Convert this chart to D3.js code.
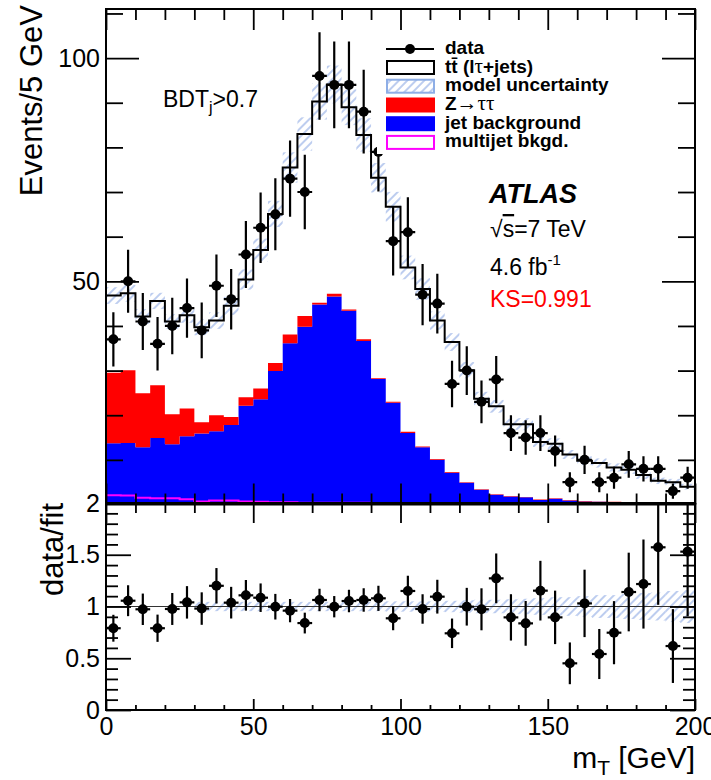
<!DOCTYPE html>
<html>
<head>
<meta charset="utf-8">
<script src="https://cdn.jsdelivr.net/npm/d3@7.9.0/dist/d3.min.js"></script>
<style>
  body { margin: 0; background: #fff; }
  svg { display: block; font-family: "Liberation Sans", Arial, Helvetica, sans-serif; }
</style>
</head>
<body>
<svg id="chart" width="711" height="780"></svg>
<script>
// -----------------------------
// Data
// -----------------------------
const binWidth = 5;                          // GeV per bin
const binLow = d3.range(0, 200, binWidth);   // lower bin edges 0 ... 195

// observed events per bin
const dataCounts = [37, 50, 41, 36, 40, 44, 39, 49, 46, 56, 62, 65, 73, 70, 96, 94, 94, 88, 79, 59,
                    61, 47, 45, 27, 30, 23, 28, 16, 15, 16, 12, 5, 10, 5, 6, 9, 8, 8, 3, 6];

// total fitted model (tt̄ lτ+jets, black line)
const ttFit = [46.8, 47.3, 42.1, 45.6, 41.0, 42.4, 39.7, 41.2, 44.5, 50.4, 57.0, 65.1, 75.5, 83.0, 90.3, 94.1, 89.0, 82.8, 73.2, 66.7,
               53.1, 48.3, 41.2, 36.4, 30.1, 23.7, 22.0, 18.0, 18.0, 14.0, 13.6, 11.2, 9.8, 9.3, 8.3, 7.8, 6.6, 5.3, 5.0, 4.0];

// stacked components
const multijet = [2.1, 2.0, 1.5, 1.4, 1.4, 1.2, 0.7, 0.9, 0.9, 0.7, 0.6, 0.5, 0.5, 0.4, 0.4, 0.4, 0.4, 0.4, 0.3, 0.3,
                  0.3, 0.3, 0.3, 0.2, 0.2, 0.2, 0.2, 0.2, 0.2, 0.2, 0.2, 0.2, 0.2, 0.2, 0.2, 0.2, 0.2, 0.2, 0.2, 0.2];
const jetBkg = [11.6, 11.8, 11.3, 13.5, 12.1, 14.1, 15.2, 15.5, 16.9, 21.4, 23.0, 29.4, 35.6, 39.4, 44.4, 46.2, 43.0, 36.2, 27.8, 22.5,
                15.7, 12.5, 9.7, 6.9, 4.7, 3.1, 2.0, 1.6, 1.4, 0.8, 1.1, 0.7, 0.5, 0.4, 0.3, 0.2, 0.2, 0.1, 0.1, 0.1];
const zTauTau = [15.8, 16.3, 12.1, 11.8, 6.7, 6.2, 2.5, 3.6, 1.8, 1.9, 2.4, 1.8, 2.0, 2.4, 0.4, 0.6, 0.3, 0.4, 0.2, 0.2,
                 0.3, 0.2, 0.2, 0.2, 0.1, 0.1, 0.1, 0.1, 0.1, 0.1, 0.1, 0.1, 0.1, 0.1, 0.1, 0.1, 0.0, 0.1, 0.0, 0.0];

// relative half-width of the hatched model uncertainty
const modelUnc = [0.04, 0.04, 0.04, 0.04, 0.04, 0.04, 0.045, 0.045, 0.045, 0.045, 0.045, 0.045, 0.045, 0.045, 0.045, 0.045, 0.045, 0.045, 0.045, 0.05,
                  0.05, 0.05, 0.05, 0.055, 0.06, 0.065, 0.065, 0.07, 0.075, 0.08, 0.09, 0.09, 0.1, 0.11, 0.11, 0.12, 0.13, 0.135, 0.15, 0.16];
const ratioUnc = [0, 0, 0, 0, 0, 0, 0.045, 0.045, 0.045, 0.045, 0.045, 0.045, 0.045, 0.045, 0.045, 0.045, 0.045, 0.045, 0.045, 0.05,
                  0.05, 0.05, 0.05, 0.055, 0.06, 0.065, 0.065, 0.07, 0.075, 0.08, 0.09, 0.09, 0.1, 0.11, 0.11, 0.12, 0.13, 0.135, 0.15, 0.16];

// data / fit
const ratioValues = [0.79, 1.056, 0.973, 0.79, 0.976, 1.04, 0.98, 1.20, 1.037, 1.108, 1.085, 0.998, 0.96, 0.84, 1.063, 0.998, 1.053, 1.063, 1.079, 0.886,
                     1.15, 0.976, 1.095, 0.741, 0.998, 0.973, 1.272, 0.895, 0.837, 1.153, 0.895, 0.451, 1.03, 0.541, 0.747, 1.14, 1.217, 1.572, 0.618, 1.53];

// tick labels
const xTicks = [0, 50, 100, 150, 200];
const yTicksTop = [50, 100];
const yTicksRatio = [0, 0.5, 1, 1.5, 2];

// -----------------------------
// Layout + scales
// -----------------------------
const left = 106, right = 695;
const topPanel = { top: 9, bottom: 504.5 };
const ratioPanel = { top: 503, bottom: 710 };

const x = d3.scaleLinear().domain([0, 200]).range([left, right]);
const yTop = d3.scaleLinear().domain([0, 111]).range([topPanel.bottom, topPanel.top]);
const yRatio = d3.scaleLinear().domain([0, 2]).range([ratioPanel.bottom, ratioPanel.top]);

const COL_HATCH = '#86a3e2';
const svg = d3.select('#chart');
const defs = svg.append('defs');

defs.append('pattern')
  .attr('id', 'hatch')
  .attr('patternUnits', 'userSpaceOnUse')
  .attr('width', 6).attr('height', 6)
  .attr('patternTransform', 'rotate(45)')
  .append('line')
  .attr('x1', 3).attr('y1', 0).attr('x2', 3).attr('y2', 6)
  .attr('stroke', COL_HATCH).attr('stroke-width', 1.1);

defs.append('clipPath').attr('id', 'clipTop').append('rect')
  .attr('x', left).attr('y', topPanel.top)
  .attr('width', right - left).attr('height', topPanel.bottom - topPanel.top);
defs.append('clipPath').attr('id', 'clipRatio').append('rect')
  .attr('x', left).attr('y', ratioPanel.top)
  .attr('width', right - left).attr('height', ratioPanel.bottom - ratioPanel.top);

// histogram helpers: one pair of points per bin gives the step shape
function stepPoints(lower, upper) {
  return binLow.flatMap((lo, i) => [
    { x: lo, y0: lower[i], y1: upper[i] },
    { x: lo + binWidth, y0: lower[i], y1: upper[i] }
  ]);
}
const stepArea = d3.area().x(d => x(d.x)).y0(d => yTop(d.y0)).y1(d => yTop(d.y1));
const stepLine = d3.line().x(d => x(d.x)).y(d => yTop(d.y1));

// -----------------------------
// Top panel
// -----------------------------
const gTop = svg.append('g').attr('clip-path', 'url(#clipTop)');

const table = binLow.map((lo, i) => ({ lo, multijet: multijet[i], jet: jetBkg[i], ztt: zTauTau[i] }));
const stacked = d3.stack().keys(['multijet', 'jet', 'ztt'])(table);
const zeros = binLow.map(() => 0);
const jetTop = stacked[1].map(s => s[1]);
const zttLow = stacked[2].map(s => s[0]);
const zttTop = stacked[2].map(s => s[1]);
const mjTop = stacked[0].map(s => s[1]);

gTop.append('path').attr('d', stepArea(stepPoints(zeros, jetTop))).attr('fill', '#0000ff');
gTop.append('path').attr('d', stepArea(stepPoints(zttLow, zttTop))).attr('fill', '#ff0000');
gTop.append('path').attr('d', stepLine(stepPoints(zeros, mjTop)))
  .attr('fill', 'none').attr('stroke', '#ff00ff').attr('stroke-width', 2);

// hatched model uncertainty
gTop.selectAll('rect.band').data(ttFit).join('rect')
  .attr('class', 'band')
  .attr('x', (d, i) => x(binLow[i]))
  .attr('width', x(binWidth) - x(0))
  .attr('y', (d, i) => yTop(d * (1 + modelUnc[i])))
  .attr('height', (d, i) => yTop(d * (1 - modelUnc[i])) - yTop(d * (1 + modelUnc[i])))
  .attr('fill', 'url(#hatch)');

gTop.append('path').attr('d', stepLine(stepPoints(zeros, ttFit)))
  .attr('fill', 'none').attr('stroke', '#000').attr('stroke-width', 2);

// data points with Poisson errors
function drawPoints(g, values, errors, yScale) {
  const pts = g.append('g');
  values.forEach((v, i) => {
    const cx = x(binLow[i] + binWidth / 2);
    pts.append('line')
      .attr('x1', cx).attr('x2', cx)
      .attr('y1', yScale(v - errors[i])).attr('y2', yScale(v + errors[i]))
      .attr('stroke', '#000').attr('stroke-width', 2.2);
    pts.append('line')
      .attr('x1', x(binLow[i])).attr('x2', x(binLow[i] + binWidth))
      .attr('y1', yScale(v)).attr('y2', yScale(v))
      .attr('stroke', '#000').attr('stroke-width', 2.2);
    pts.append('circle').attr('cx', cx).attr('cy', yScale(v)).attr('r', 5).attr('fill', '#000');
  });
}
drawPoints(gTop, dataCounts, dataCounts.map(n => Math.sqrt(n)), yTop);

// -----------------------------
// Legend (white box sits over the data, as in the original)
// -----------------------------
svg.append('rect').attr('x', 377).attr('y', 30).attr('width', 270).attr('height', 124).attr('fill', '#fff');

const legendRows = [
  { key: 'data', base: 54 },
  { key: 'tt', base: 72.5 },
  { key: 'unc', base: 91.2 },
  { key: 'ztt', base: 110 },
  { key: 'jet', base: 128.7 },
  { key: 'mj', base: 147.4 }
];
const lg = svg.append('g');
const boxX = 387, boxW = 47, boxH = 13;
legendRows.forEach(r => {
  const cy = r.base - 5;
  if (r.key === 'data') {
    lg.append('line').attr('x1', 386).attr('x2', 434).attr('y1', cy).attr('y2', cy)
      .attr('stroke', '#000').attr('stroke-width', 2);
    lg.append('circle').attr('cx', 410).attr('cy', cy).attr('r', 5).attr('fill', '#000');
  } else {
    const style = {
      tt: ['#fff', '#000'], unc: ['url(#hatch)', '#8eaee6'], ztt: ['#ff0000', '#ff0000'],
      jet: ['#0000ff', '#0000ff'], mj: ['#fff', '#ff00ff']
    }[r.key];
    lg.append('rect').attr('x', boxX).attr('y', cy - boxH / 2).attr('width', boxW).attr('height', boxH)
      .attr('fill', style[0]).attr('stroke', style[1]).attr('stroke-width', 2);
  }
  const t = lg.append('text').attr('x', 445).attr('y', r.base)
    .attr('font-size', 19).attr('font-weight', 'bold');
  if (r.key === 'data') t.text('data');
  if (r.key === 'tt') {
    t.append('tspan').text('tt\u0304 (l');
    t.append('tspan').attr('font-family', '"Liberation Serif", serif').attr('font-weight', 'normal')
      .attr('font-size', 21).text('τ');
    t.append('tspan').text('+jets)');
  }
  if (r.key === 'unc') t.text('model uncertainty');
  if (r.key === 'ztt') {
    t.append('tspan').text('Z');
    t.append('tspan').attr('font-family', '"Liberation Serif", serif').attr('font-weight', 'normal')
      .attr('font-size', 21).text('→ττ');
  }
  if (r.key === 'jet') t.text('jet background');
  if (r.key === 'mj') t.text('multijet bkgd.');
});

// -----------------------------
// Labels inside the top panel
// -----------------------------
const bdt = svg.append('text').attr('x', 163).attr('y', 107).attr('font-size', 23);
bdt.append('tspan').text('BDT');
bdt.append('tspan').attr('font-size', 16).attr('dy', 6).text('j');
bdt.append('tspan').attr('dy', -6).text('>0.7');

svg.append('text').attr('x', 489).attr('y', 203)
  .attr('font-size', 27).attr('font-weight', 'bold').attr('font-style', 'italic').text('ATLAS');

const sq = svg.append('text').attr('x', 490).attr('y', 237).attr('font-size', 23);
sq.append('tspan').text('√');
sq.append('tspan').attr('style', 'text-decoration: overline').text('s');
sq.append('tspan').text('=7 TeV');

const lumi = svg.append('text').attr('x', 490).attr('y', 275).attr('font-size', 23);
lumi.append('tspan').text('4.6 fb');
lumi.append('tspan').attr('font-size', 15).attr('dy', -10).text('-1');

svg.append('text').attr('x', 490).attr('y', 307).attr('font-size', 23).attr('fill', '#ff0000').text('KS=0.991');

// -----------------------------
// Ratio panel
// -----------------------------
const gRatio = svg.append('g').attr('clip-path', 'url(#clipRatio)');

gRatio.selectAll('rect.band').data(ratioUnc).join('rect')
  .attr('class', 'band')
  .attr('x', (d, i) => x(binLow[i]))
  .attr('width', x(binWidth) - x(0))
  .attr('y', d => yRatio(1 + d))
  .attr('height', d => yRatio(1 - d) - yRatio(1 + d))
  .attr('fill', 'url(#hatch)');

gRatio.append('line').attr('x1', left).attr('x2', right)
  .attr('y1', yRatio(1)).attr('y2', yRatio(1))
  .attr('stroke', '#333').attr('stroke-width', 1.2);

drawPoints(gRatio, ratioValues, ratioValues.map((r, i) => r / Math.sqrt(dataCounts[i])), yRatio);

// -----------------------------
// Axes: ROOT-style inward ticks on all four sides
// -----------------------------
function tickAxis(axisFn, scale, values, size, pos, labels, padding) {
  const ax = axisFn(scale).tickValues(values).tickSize(-size).tickPadding(padding || 6)
    .tickFormat(labels ? (d => String(d)) : '');
  const g = svg.append('g').attr('transform', pos).call(ax);
  g.select('.domain').remove();
  g.selectAll('line').attr('stroke', '#000').attr('stroke-width', 1.8);
  g.selectAll('text').attr('font-size', 25).attr('fill', '#000')
    .attr('font-family', '"Liberation Sans", Arial, sans-serif');
  return g;
}

const xMinor = d3.range(0, 201, 10).filter(v => v % 50 !== 0);
const yTopMinor = d3.range(10, 111, 10).filter(v => v % 50 !== 0);
const yRatioMinor = d3.range(1, 20).map(v => v / 10).filter(v => !yTicksRatio.includes(v));

// top panel
tickAxis(d3.axisLeft, yTop, yTicksTop, 33, `translate(${left},0)`, true);
tickAxis(d3.axisLeft, yTop, yTopMinor, 17, `translate(${left},0)`, false);
tickAxis(d3.axisRight, yTop, yTicksTop, 33, `translate(${right},0)`, false);
tickAxis(d3.axisRight, yTop, yTopMinor, 17, `translate(${right},0)`, false);
tickAxis(d3.axisBottom, x, xTicks, 21, `translate(0,${topPanel.bottom})`, false);
tickAxis(d3.axisBottom, x, xMinor, 11, `translate(0,${topPanel.bottom})`, false);
tickAxis(d3.axisTop, x, xTicks, 21, `translate(0,${topPanel.top})`, false);
tickAxis(d3.axisTop, x, xMinor, 11, `translate(0,${topPanel.top})`, false);

// ratio panel
tickAxis(d3.axisLeft, yRatio, yTicksRatio, 25, `translate(${left},0)`, true);
tickAxis(d3.axisLeft, yRatio, yRatioMinor, 12, `translate(${left},0)`, false);
tickAxis(d3.axisRight, yRatio, yTicksRatio, 25, `translate(${right},0)`, false);
tickAxis(d3.axisRight, yRatio, yRatioMinor, 12, `translate(${right},0)`, false);
tickAxis(d3.axisTop, x, xTicks, 20, `translate(0,${ratioPanel.top})`, false);
tickAxis(d3.axisTop, x, xMinor, 10, `translate(0,${ratioPanel.top})`, false);
tickAxis(d3.axisBottom, x, xTicks, 11, `translate(0,${ratioPanel.bottom})`, true, 7);
tickAxis(d3.axisBottom, x, xMinor, 5, `translate(0,${ratioPanel.bottom})`, false);

// frames
[topPanel, ratioPanel].forEach(p => {
  svg.append('rect').attr('x', left).attr('y', p.top)
    .attr('width', right - left).attr('height', p.bottom - p.top)
    .attr('fill', 'none').attr('stroke', '#000').attr('stroke-width', 2);
});

// axis titles
svg.append('text').attr('transform', 'translate(42,5) rotate(-90)')
  .attr('text-anchor', 'end').attr('font-size', 31).text('Events/5 GeV');
svg.append('text').attr('transform', 'translate(63,503) rotate(-90)')
  .attr('text-anchor', 'end').attr('font-size', 31).text('data/fit');

const xt = svg.append('text').attr('x', right).attr('y', 768).attr('text-anchor', 'end').attr('font-size', 30);
xt.append('tspan').text('m');
xt.append('tspan').attr('font-size', 21).attr('dy', 7).text('T');
xt.append('tspan').attr('dy', -7).text(' [GeV]');
</script>
</body>
</html>
